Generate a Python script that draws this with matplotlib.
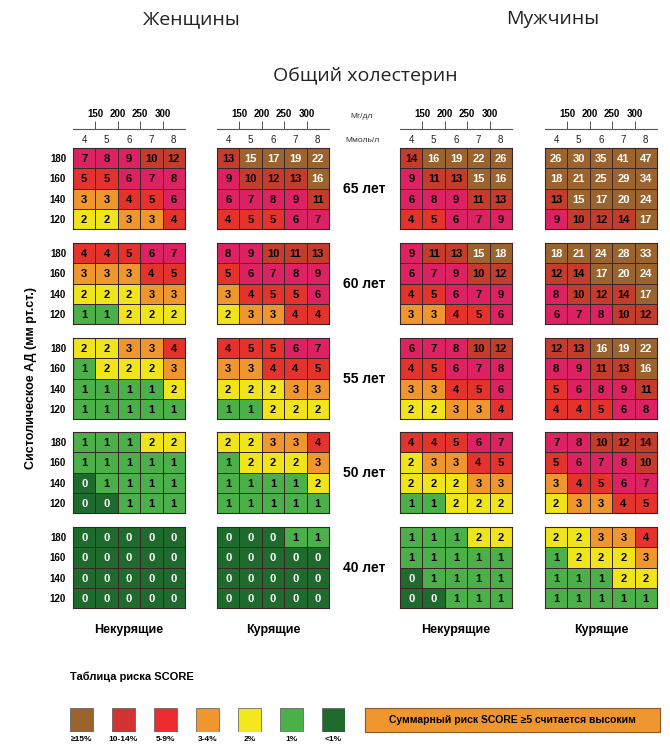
"""SCORE risk chart (high-risk regions) - women / men, non-smokers / smokers."""
import numpy as np
import matplotlib
matplotlib.use('Agg')
import matplotlib.pyplot as plt
from matplotlib.colors import ListedColormap, BoundaryNorm

# --- data ---------------------------------------------------------------
chol_mmol = [4, 5, 6, 7, 8]
chol_mgdl = [150, 200, 250, 300]
sbp = [180, 160, 140, 120]
ages = ['65 лет', '60 лет', '55 лет', '50 лет', '40 лет']
groups = ['Некурящие', 'Курящие', 'Некурящие', 'Курящие']

# rows: SBP 180..120, cols: cholesterol 4..8 mmol/l
women_nonsmoker = [
    [[7, 8, 9, 10, 12], [5, 5, 6, 7, 8], [3, 3, 4, 5, 6], [2, 2, 3, 3, 4]],
    [[4, 4, 5, 6, 7], [3, 3, 3, 4, 5], [2, 2, 2, 3, 3], [1, 1, 2, 2, 2]],
    [[2, 2, 3, 3, 4], [1, 2, 2, 2, 3], [1, 1, 1, 1, 2], [1, 1, 1, 1, 1]],
    [[1, 1, 1, 2, 2], [1, 1, 1, 1, 1], [0, 1, 1, 1, 1], [0, 0, 1, 1, 1]],
    [[0, 0, 0, 0, 0], [0, 0, 0, 0, 0], [0, 0, 0, 0, 0], [0, 0, 0, 0, 0]],
]
women_smoker = [
    [[13, 15, 17, 19, 22], [9, 10, 12, 13, 16], [6, 7, 8, 9, 11], [4, 5, 5, 6, 7]],
    [[8, 9, 10, 11, 13], [5, 6, 7, 8, 9], [3, 4, 5, 5, 6], [2, 3, 3, 4, 4]],
    [[4, 5, 5, 6, 7], [3, 3, 4, 4, 5], [2, 2, 2, 3, 3], [1, 1, 2, 2, 2]],
    [[2, 2, 3, 3, 4], [1, 2, 2, 2, 3], [1, 1, 1, 1, 2], [1, 1, 1, 1, 1]],
    [[0, 0, 0, 1, 1], [0, 0, 0, 0, 0], [0, 0, 0, 0, 0], [0, 0, 0, 0, 0]],
]
men_nonsmoker = [
    [[14, 16, 19, 22, 26], [9, 11, 13, 15, 16], [6, 8, 9, 11, 13], [4, 5, 6, 7, 9]],
    [[9, 11, 13, 15, 18], [6, 7, 9, 10, 12], [4, 5, 6, 7, 9], [3, 3, 4, 5, 6]],
    [[6, 7, 8, 10, 12], [4, 5, 6, 7, 8], [3, 3, 4, 5, 6], [2, 2, 3, 3, 4]],
    [[4, 4, 5, 6, 7], [2, 3, 3, 4, 5], [2, 2, 2, 3, 3], [1, 1, 2, 2, 2]],
    [[1, 1, 1, 2, 2], [1, 1, 1, 1, 1], [0, 1, 1, 1, 1], [0, 0, 1, 1, 1]],
]
men_smoker = [
    [[26, 30, 35, 41, 47], [18, 21, 25, 29, 34], [13, 15, 17, 20, 24], [9, 10, 12, 14, 17]],
    [[18, 21, 24, 28, 33], [12, 14, 17, 20, 24], [8, 10, 12, 14, 17], [6, 7, 8, 10, 12]],
    [[12, 13, 16, 19, 22], [8, 9, 11, 13, 16], [5, 6, 8, 9, 11], [4, 4, 5, 6, 8]],
    [[7, 8, 10, 12, 14], [5, 6, 7, 8, 10], [3, 4, 5, 6, 7], [2, 3, 3, 4, 5]],
    [[2, 2, 3, 3, 4], [1, 2, 2, 2, 3], [1, 1, 1, 2, 2], [1, 1, 1, 1, 1]],
]

legend_labels = ['≥15%', '10-14%', '5-9%', '3-4%', '2%', '1%', '<1%']
legend_colors = ['#9b642f', '#d23232', '#ec2c2e', '#f0962e', '#f2e81c', '#4cb04a', '#1f6b2d']

# --- colours ---------------------------------------------------------------
DKGREEN, GREEN, YELLOW, ORANGE = '#1f6b2d', '#4cb04a', '#f0e41c', '#f0962e'
RED, PINK, DKRED, BROWN = '#e3332c', '#dc2262', '#c43c2c', '#9b642f'
cmap = ListedColormap([DKGREEN, GREEN, YELLOW, ORANGE, RED, PINK, DKRED, BROWN])
norm = BoundaryNorm([-0.5, 0.5, 1.5, 2.5, 3.5, 5.5, 9.5, 14.5, 100], cmap.N)

W, H = 670, 746
fig = plt.figure(figsize=(W / 100, H / 100), dpi=100)
fig.patch.set_facecolor('white')

COND = ['Liberation Sans', 'DejaVu Sans']
LIGHT = ['Open Sans', 'DejaVu Sans']


def px_axes(x0, y0, x1, y1):
    """Axes from pixel box (origin top-left)."""
    return fig.add_axes([x0 / W, 1 - y1 / H, (x1 - x0) / W, (y1 - y0) / H])


def fx(x):
    return x / W


def fy(y):
    return 1 - y / H


col_x = [73, 217, 400, 545]
row_y = [148, 243, 338, 432, 527]
PW, PH = 112, 81
EDGE = '#3a2626'

for gi, data in enumerate([women_nonsmoker, women_smoker, men_nonsmoker, men_smoker]):
    x0 = col_x[gi]
    for ai in range(len(ages)):
        y0 = row_y[ai]
        ax = px_axes(x0, y0, x0 + PW, y0 + PH)
        vals = np.array(data[ai])
        ax.pcolormesh(vals, cmap=cmap, norm=norm, edgecolors=EDGE, linewidth=0.6)
        ax.set_xlim(0, 5)
        ax.set_ylim(4, 0)
        for i in range(vals.shape[0]):
            for j in range(vals.shape[1]):
                v = vals[i, j]
                c = 'white' if (v >= 15 or v == 0) else 'black'
                ax.text(j + 0.5, i + 0.55, str(v), ha='center', va='center', color=c,
                        fontsize=8, fontweight='bold', family=COND)
        for s in ax.spines.values():
            s.set_color(EDGE)
            s.set_linewidth(0.8)

        if ai == 0:
            ax.xaxis.tick_top()
            ax.set_xticks(np.arange(5) + 0.5, [str(c) for c in chol_mmol])
            ax.tick_params(axis='x', length=0, pad=2, labelsize=7, labelcolor='#222')
            for t in ax.get_xticklabels():
                t.set_family(COND)
            # mg/dl scale above
            sc = px_axes(x0, 120, x0 + PW, 129)
            sc.set_xlim(0, 5)
            sc.set_ylim(0, 1)
            sc.patch.set_alpha(0)
            for side in ['top', 'left', 'right']:
                sc.spines[side].set_visible(False)
            sc.spines['bottom'].set_color('#555')
            sc.spines['bottom'].set_linewidth(0.8)
            sc.set_xticks(np.arange(1, 5), [str(c) for c in chol_mgdl])
            sc.set_yticks([])
            sc.tick_params(axis='x', direction='in', length=6, width=0.7, color='#555',
                           bottom=True, top=False, labelbottom=False, labeltop=True,
                           pad=0.5, labelsize=7)
            for t in sc.get_xticklabels():
                t.set_fontweight('bold')
                t.set_family(COND)
        else:
            ax.set_xticks([])

        if gi == 0:
            ax.set_yticks(np.arange(4) + 0.5, [str(s) for s in sbp])
            ax.tick_params(axis='y', length=0, pad=5, labelsize=7)
            for t in ax.get_yticklabels():
                t.set_fontweight('bold')
                t.set_family(COND)
        else:
            ax.set_yticks([])

        if gi == 1:
            fig.text(fx(364), fy(y0 + 41), ages[ai], ha='center', va='center',
                     fontsize=10, fontweight='bold', family=COND)

# unit labels in the middle
fig.text(fx(362), fy(116), 'Мг/дл', ha='center', va='center', fontsize=6, family=COND, color='#333')
fig.text(fx(362), fy(141), 'Ммоль/л', ha='center', va='center', fontsize=6, family=COND, color='#333')

# headers
fig.text(fx(191), fy(19), 'Женщины', ha='center', va='center', fontsize=14, family=LIGHT, color='#222')
fig.text(fx(553), fy(19), 'Мужчины', ha='center', va='center', fontsize=14, family=LIGHT, color='#222')
fig.text(fx(365), fy(76), 'Общий холестерин', ha='center', va='center', fontsize=14, family=LIGHT, color='#222')

# y label
fig.text(fx(31), fy(378), 'Систолическое АД (мм рт.ст.)', rotation=90, ha='center', va='center',
         fontsize=9, fontweight='bold', family=COND)

# smoker / non-smoker labels
for gi, name in enumerate(groups):
    fig.text(fx(col_x[gi] + PW / 2), fy(630), name, ha='center', va='center',
             fontsize=9, fontweight='bold', family=COND)

# legend
fig.text(fx(70), fy(677), 'Таблица риска SCORE', ha='left', va='center',
         fontsize=8, fontweight='bold', family=COND)

lg = px_axes(70, 708, 345, 732)
lg.bar(np.arange(len(legend_colors)), 1, width=0.55, color=legend_colors,
       edgecolor='#555', linewidth=0.5)
lg.set_xlim(-0.275, 6.275)
lg.set_ylim(0, 1)
lg.patch.set_alpha(0)
for s in lg.spines.values():
    s.set_visible(False)
lg.set_yticks([])
lg.set_xticks(np.arange(len(legend_labels)), legend_labels)
lg.tick_params(axis='x', length=0, pad=3, labelsize=6)
for t in lg.get_xticklabels():
    t.set_fontweight('bold')
    t.set_family(COND)

box = px_axes(365, 708, 660, 732)
box.set_facecolor('#f0962e')
box.set_xticks([])
box.set_yticks([])
for s in box.spines.values():
    s.set_color('#8a5a2a')
    s.set_linewidth(0.8)
box.text(0.5, 0.5, 'Суммарный риск SCORE ≥5 считается высоким', ha='center', va='center',
         fontsize=7.5, fontweight='bold', family=COND, transform=box.transAxes)

plt.savefig('out.png', dpi=100)
plt.close()
